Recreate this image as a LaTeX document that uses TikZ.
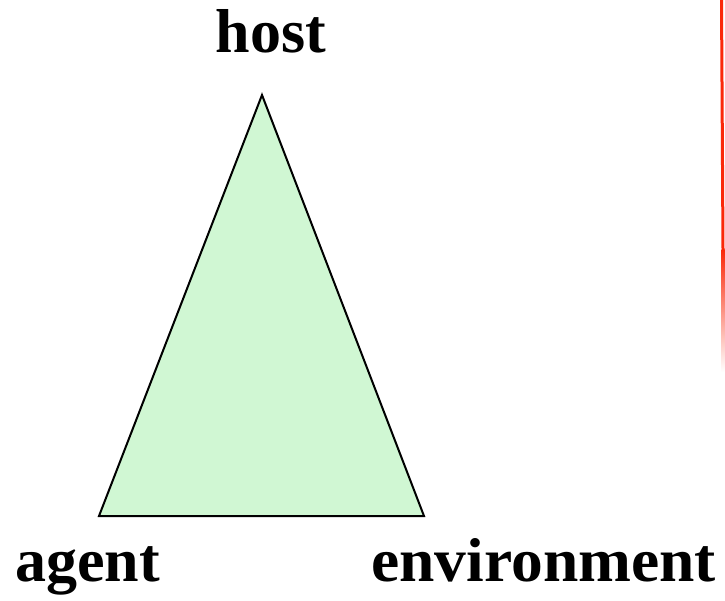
\documentclass[tikz,border=0pt]{standalone}
\usepackage{graphicx}
\usepackage{fontspec}
\setmainfont{Liberation Serif}
\definecolor{trigreen}{RGB}{208,247,211}
\definecolor{edgered}{RGB}{250,40,10}
\begin{document}
\begin{tikzpicture}[x=1pt,y=-1pt,
  lbl/.style={font=\fontsize{62}{62}\selectfont\bfseries, inner sep=0pt, anchor=base}]
\useasboundingbox (0,0) rectangle (725,601);
\coordinate (apex) at (262,95);
\coordinate (bl) at (99,516);
\coordinate (br) at (424,516);
\draw[fill=trigreen, line width=2pt, line join=miter] (apex) -- (bl) -- (br) -- cycle;
\node[lbl] (host) at (271,53) {host};
\node[lbl, anchor=base west] (agent) at (15,581) {agent};
\node[lbl, anchor=base east] (env) at (716,581) {\scalebox{1.024}[1]{environment}};
\coordinate (r1) at (721.5,0);
\coordinate (r2) at (723,250);
\draw[edgered, line width=3pt] (r1) -- (r2);
\shade[top color=edgered, bottom color=white] (721.6,250) rectangle (724.6,372);
\end{tikzpicture}
\end{document}
